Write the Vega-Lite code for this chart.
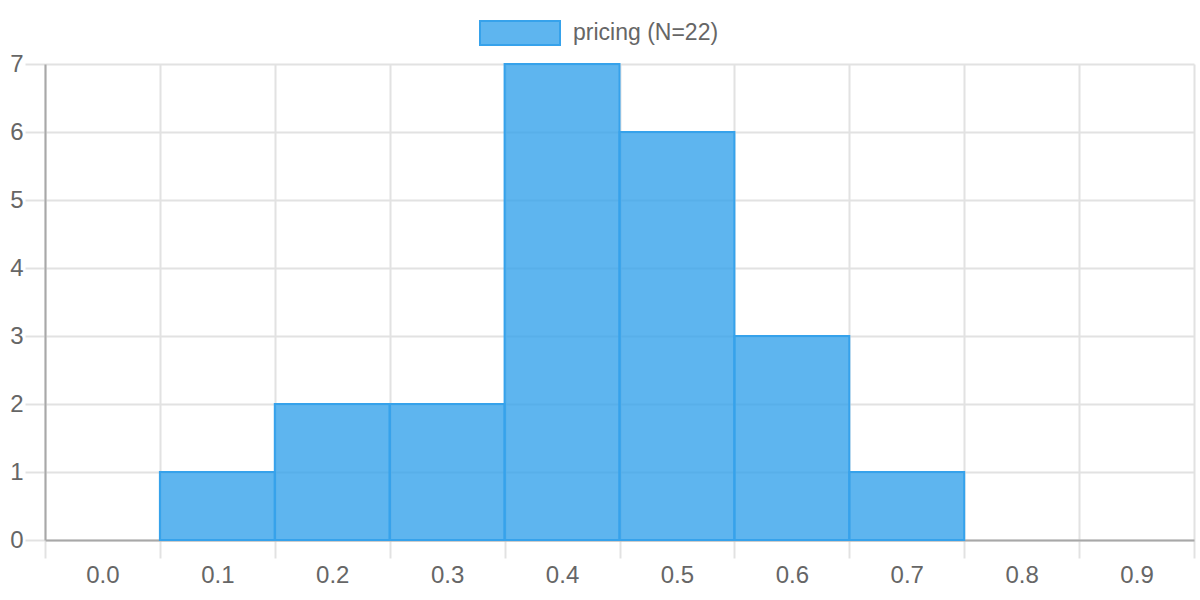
{
  "$schema": "https://vega.github.io/schema/vega-lite/v6.json",
  "autosize": {"type": "none"},
  "width": 1149,
  "height": 476,
  "padding": {"left": 45, "top": 64, "right": 6, "bottom": 60},
  "background": "white",
  "data": {
    "values": [
      {"bin": "0.0", "count": 0},
      {"bin": "0.1", "count": 1},
      {"bin": "0.2", "count": 2},
      {"bin": "0.3", "count": 2},
      {"bin": "0.4", "count": 7},
      {"bin": "0.5", "count": 6},
      {"bin": "0.6", "count": 3},
      {"bin": "0.7", "count": 1},
      {"bin": "0.8", "count": 0},
      {"bin": "0.9", "count": 0}
    ]
  },
  "transform": [{"filter": "datum.count > 0"}],
  "mark": {"type": "bar", "stroke": "#36A2EB", "strokeWidth": 2},
  "encoding": {
    "x": {
      "field": "bin",
      "type": "ordinal",
      "scale": {"domain": ["0.0","0.1","0.2","0.3","0.4","0.5","0.6","0.7","0.8","0.9"], "paddingInner": 0, "paddingOuter": 0},
      "axis": {
        "title": null,
        "labelAngle": 0,
        "tickBand": "extent",
        "grid": true,
        "gridColor": "#e2e2e2",
        "domainColor": "#a8a8a8",
        "domainWidth": 2,
        "tickColor": "#e2e2e2",
        "tickWidth": 2,
        "tickSize": 18,
        "labelPadding": 5,
        "labelFont": "Liberation Sans",
        "labelFontSize": 24,
        "labelColor": "#666666"
      }
    },
    "y": {
      "field": "count",
      "type": "quantitative",
      "scale": {"domain": [0, 7], "nice": false},
      "axis": {
        "title": null,
        "values": [0,1,2,3,4,5,6,7],
        "grid": true,
        "gridColor": "#e2e2e2",
        "gridWidth": 2,
        "domainColor": "#a8a8a8",
        "domainWidth": 2,
        "tickColor": "#e2e2e2",
        "tickWidth": 2,
        "tickSize": 20,
        "labelPadding": 2,
        "labelFont": "Liberation Sans",
        "labelFontSize": 24,
        "labelColor": "#666666"
      }
    },
    "color": {
      "datum": "pricing (N=22)",
      "type": "nominal",
      "scale": {"range": ["rgba(54,162,235,0.8)"]},
      "legend": {
        "title": null,
        "orient": "none",
        "legendX": 434,
        "legendY": -72,
        "padding": 0,
        "symbolType": "M-1,-0.3H1V0.3H-1Z",
        "symbolSize": 6400,
        "symbolStrokeColor": "#36A2EB",
        "symbolStrokeWidth": 2,
        "labelOffset": 12,
        "labelFont": "Liberation Sans",
        "labelFontSize": 23,
        "labelColor": "#666666"
      }
    }
  },
  "config": {"view": {"stroke": null}, "axis": {"gridWidth": 2}}
}
